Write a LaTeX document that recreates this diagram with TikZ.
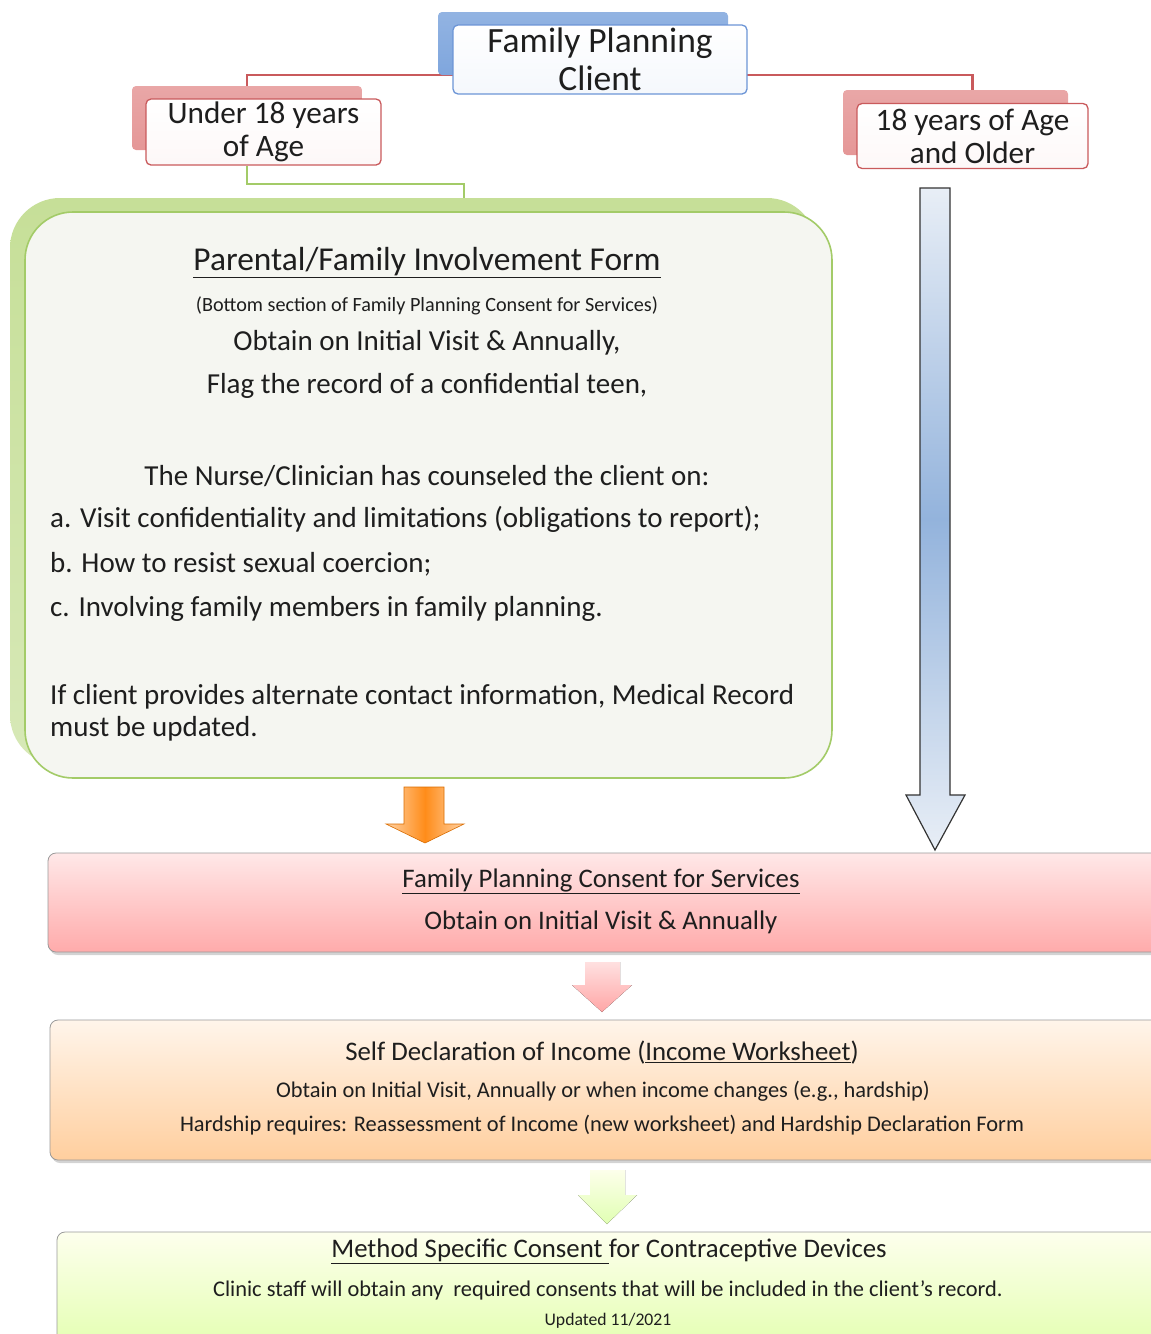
\documentclass[tikz,border=0pt]{standalone}
\usepackage{fontspec}
\setmainfont{Carlito}
\usetikzlibrary{positioning,backgrounds,shadows}
\definecolor{ink}{HTML}{1E1E1E}
\definecolor{tabblue}{HTML}{7FA6DD}
\definecolor{lineblue}{HTML}{6C95D6}
\definecolor{tabred}{HTML}{E59797}
\definecolor{linered}{HTML}{C95A5C}
\definecolor{leafgreen}{HTML}{A3CB68}
\definecolor{panelgreen}{HTML}{C6DF98}
\definecolor{panelbg}{HTML}{F5F6F1}
\definecolor{steelblue}{HTML}{93B3DC}
\definecolor{paleblue}{HTML}{E8EEF6}
\tikzset{
  tab/.style={rounded corners=4pt,inner sep=0pt},
  labelbox/.style={draw,line width=1.3pt,top color=white,bottom color=white!93!tabred,
    rounded corners=5pt,inner sep=0pt,align=center},
  stagebox/.style={draw=black!40,line width=0.8pt,rounded corners=8pt,inner sep=0pt,
    drop shadow={opacity=0.35,shadow xshift=2pt,shadow yshift=-3pt}},
  tree/.style={line width=2.4pt},
  small/.style={font=\fontsize{22.4}{26}\selectfont},
  stagetext/.style={font=\fontsize{26.8}{31}\selectfont}
}

\begin{document}
\begin{tikzpicture}[x=1pt,y=-1pt,font=\fontsize{29}{32}\selectfont,text=ink]
\useasboundingbox (0,0) rectangle (1151,1334);
% client and age groups
\node[tab,top color=tabblue!85,bottom color=tabblue,minimum width=290pt,minimum height=63pt] (ctab) at (583,43.5) {};
\node[labelbox,draw=lineblue,bottom color=white!92!tabblue,minimum width=294pt,minimum height=69pt,
  font=\fontsize{35.5}{38}\selectfont] (client) at (600,59.5) {Family Planning\\Client};
\node[tab,top color=tabred!85,bottom color=tabred,minimum width=230pt,minimum height=64pt] (utab) at (247,118) {};
\node[labelbox,draw=linered,minimum width=235pt,minimum height=66pt,
  font=\fontsize{31.2}{33}\selectfont] (under) at (263.5,132) {Under 18 years\\of Age};
\node[tab,top color=tabred!85,bottom color=tabred,minimum width=225pt,minimum height=65pt] (otab) at (955.5,122.5) {};
\node[labelbox,draw=linered,minimum width=231pt,minimum height=65pt,
  font=\fontsize{31.2}{33}\selectfont] (older) at (972.5,136) {18 years of Age\\and Older};

% teen panel
\node[tab,rounded corners=50pt,top color=panelgreen,bottom color=panelgreen!70!white,
  minimum width=807pt,minimum height=567pt] (panelback) at (413.5,481.5) {};
\node[tab,rounded corners=48pt,draw=leafgreen,line width=1.6pt,fill=panelbg,
  minimum width=807pt,minimum height=566pt] (panel) at (428.5,495) {};
\coordinate (gjoin) at (464,184);
\begin{scope}[on background layer]
\draw[tree,linered] (ctab.south) -| (utab.north);
\draw[tree,linered] (ctab.south) -| (older.north);
\draw[tree,leafgreen] (utab.north |- under.south) |- (gjoin) -- (gjoin |- panelback.north);
\end{scope}
\node (formtitle) at (427,263) {\fontsize{33.4}{36}\selectfont\underline{Parental/Family Involvement Form}};
\node (formnote) at (427,306) {\fontsize{20.2}{22}\selectfont(Bottom section of Family Planning Consent for Services)};
\node (formwhen) at (427,343) {Obtain on Initial Visit \& Annually,};
\node (formflag) at (427,386) {Flag the record of a confidential teen,};
\node (counsel) at (427,476) {The Nurse/Clinician has counseled the client on:};
\node[anchor=west,inner sep=0pt] (itema) at (50,519) {a. Visit confidentiality and limitations (obligations to report);};
\node[anchor=west,inner sep=0pt] (itemb) at (50,564) {b. How to resist sexual coercion;};
\node[anchor=west,inner sep=0pt] (itemc) at (50,609) {c. Involving family members in family planning.};
\node[anchor=west,inner sep=0pt,align=left] (update) at (50,713)
  {If client provides alternate contact information, Medical Record\\must be updated.};

% block arrows
\draw[draw=orange!85!black,line width=0.6pt,left color=orange!35,right color=orange!35,middle color=orange!90]
  (404,787) -- (444,787) -- (444,824) -- (464,824) -- (425,843) -- (386,824) -- (404,824) -- cycle;
\draw[draw=black!80,line width=1.2pt,top color=paleblue,bottom color=paleblue,middle color=steelblue]
  (920,188) -- (950,188) -- (950,795) -- (965,795) -- (935,850) -- (906,795) -- (920,795) -- cycle;
\fill[top color=red!12,bottom color=red!35]
  (585,962) -- (620,962) -- (620,985) -- (632,985) -- (602,1012) -- (572,985) -- (585,985) -- cycle;
\fill[top color=green!10!yellow!8,bottom color=green!40!yellow!30]
  (590,1170) -- (625,1170) -- (625,1195) -- (637,1195) -- (607,1224) -- (578,1195) -- (590,1195) -- cycle;

% consent steps
\node[stagebox,top color=red!9,bottom color=red!33,minimum width=1117pt,minimum height=99pt] (consent) at (606.5,902.5) {};
\node[stagetext] (consenttitle) at (601,881) {\underline{Family Planning Consent for Services}};
\node[stagetext] (consentwhen) at (601,922) {Obtain on Initial Visit \& Annually};
\node[stagebox,top color=orange!8,bottom color=orange!38,minimum width=1115pt,minimum height=140pt] (income) at (607.5,1090) {};
\node[stagetext] (incometitle) at (602,1053) {Self Declaration of Income (\underline{Income Worksheet})};
\node[small] (incomewhen) at (603,1091) {Obtain on Initial Visit, Annually or when income changes (e.g., hardship)};
\node[small] (hardship) at (602,1125) {Hardship requires: Reassessment of Income (new worksheet) and Hardship Declaration Form};
\node[stagebox,top color=green!10!yellow!7,bottom color=green!35!yellow!30,minimum width=1108pt,minimum height=113pt] (method) at (611,1288.5) {};
\node[stagetext] (methodtitle) at (609,1251) {\underline{Method Specific Consent }for Contraceptive Devices};
\node[small] (methodnote) at (608,1290) {Clinic staff will obtain any\ \ required consents that will be included in the client's record.};
\node[font=\fontsize{17.7}{20}\selectfont] (updated) at (608,1321) {Updated 11/2021};
\end{tikzpicture}
\end{document}
